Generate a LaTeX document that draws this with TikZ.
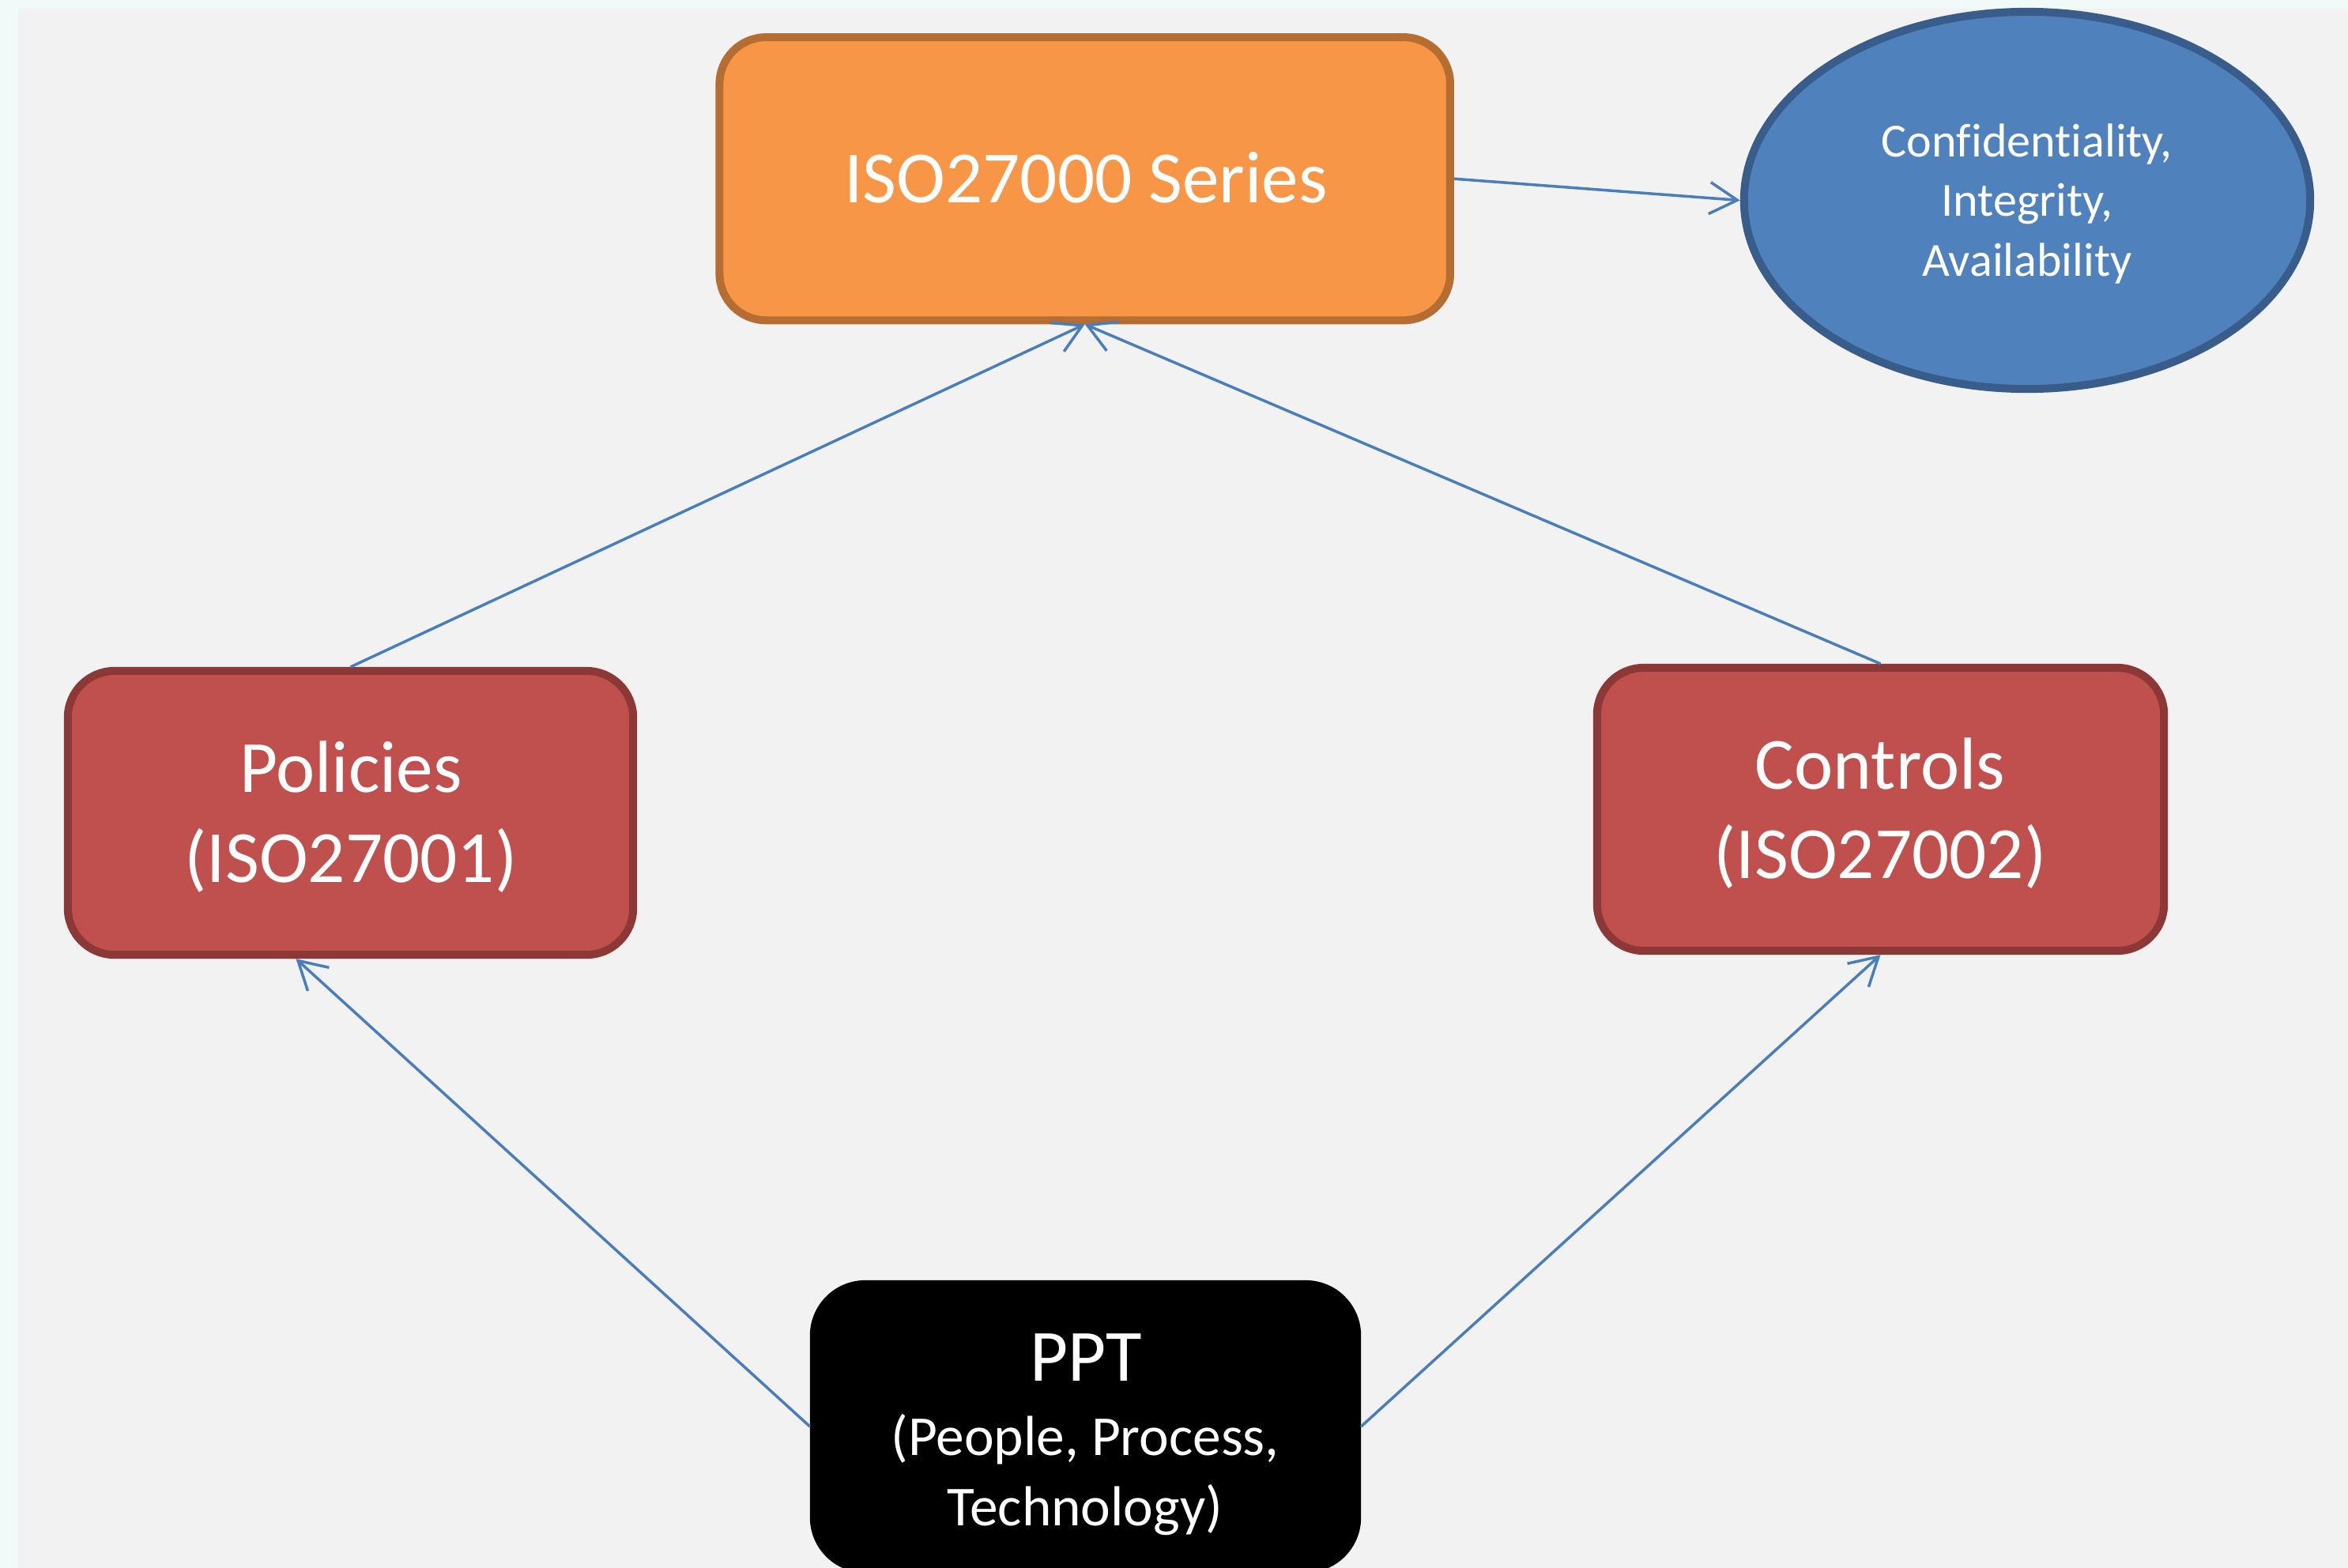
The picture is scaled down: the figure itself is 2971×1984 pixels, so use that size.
\documentclass[tikz,border=0pt]{standalone}
\usepackage{fontspec}
\setmainfont[Ligatures=NoCommon]{Carlito}
\usetikzlibrary{arrows.meta,shapes.geometric}

\definecolor{stripcol}{HTML}{F0FBF9}
\definecolor{bggray}{HTML}{F2F2F2}
\definecolor{orangefill}{HTML}{F79646}
\definecolor{orangeline}{HTML}{B66D31}
\definecolor{redfill}{HTML}{C0504D}
\definecolor{redline}{HTML}{8C3836}
\definecolor{ciafill}{HTML}{4F81BD}
\definecolor{cialine}{HTML}{385D8A}
\definecolor{linkblue}{HTML}{4A7EBB}

\begin{document}
\begin{tikzpicture}[x=0.01cm,y=-0.01cm,
  box/.style={rectangle, inner sep=0pt, line width=0.1cm, rounded corners=0.59cm},
  redbox/.style={box, fill=redfill, draw=redline, minimum width=7.15cm, minimum height=3.59cm},
  txt/.style={text=white, anchor=base, inner sep=0pt},
  bigtxt/.style={font=\fontsize{26.5pt}{32pt}\selectfont},
  midtxt/.style={font=\fontsize{20.3pt}{25pt}\selectfont},
  smalltxt/.style={font=\fontsize{17.1pt}{21.5pt}\selectfont},
  link/.style={draw=linkblue, line width=0.035cm,
    -{Straight Barb[length=0.35cm,width=0.4cm]}}
]
\useasboundingbox (0,0) rectangle (2971,1984);
\clip (0,0) rectangle (2971,1984);

% page background with the thin light border strip
\fill[stripcol] (0,0) rectangle (2971,1984);
\fill[bggray] (23,11) rectangle (2971,1984);

% boxes
\node[box, fill=orangefill, draw=orangeline,
      minimum width=9.24cm, minimum height=3.58cm] (iso) at (1372.7,226.2) {};
\node[redbox] (pol) at (443.5,1028.5) {};
\node[redbox, minimum width=7.17cm, minimum height=3.58cm] (ctl) at (2379.5,1024) {};
\node[box, fill=black, draw=none, outer sep=0pt, rounded corners=0.7cm,
      minimum width=6.97cm, minimum height=3.70cm] (ppt) at (1373.5,1805) {};
\node[ellipse, inner sep=0pt, fill=ciafill, draw=cialine, line width=0.1cm,
      minimum width=7.16cm, minimum height=4.77cm] (cia) at (2565,253.5) {};

% texts
\node[txt,bigtxt] (iso-t) at (1374,256.7) {ISO27000 Series};
\node[txt,bigtxt] (pol-t1) at (444,1002.7) {Policies};
\node[txt,bigtxt] (pol-t2) at (444,1116) {(ISO27001)};
\node[txt,bigtxt] (ctl-t1) at (2379,998) {Controls};
\node[txt,bigtxt] (ctl-t2) at (2379,1111.7) {(ISO27002)};
\node[txt,bigtxt] (ppt-t1) at (1374,1747.7) {PPT};
\node[txt,midtxt] (ppt-t2) at (1373,1841.7) {(People, Process,};
\node[txt,midtxt] (ppt-t3) at (1373,1930) {Technology)};
\node[txt,smalltxt] (cia-t1) at (2565,198) {Confidentiality,};
\node[txt,smalltxt] (cia-t2) at (2565,273) {Integrity,};
\node[txt,smalltxt] (cia-t3) at (2565,349) {Availability};

% connectors
\draw[link] (iso.east) -- (cia.west);
\draw[link] (pol.north) -- (iso.south);
\draw[link] (ctl.north) -- (iso.south);
\draw[link] (ppt.west) -- ([xshift=-0.69cm]pol.south);
\draw[link] (ppt.east) -- (ctl.south);
\end{tikzpicture}
\end{document}
